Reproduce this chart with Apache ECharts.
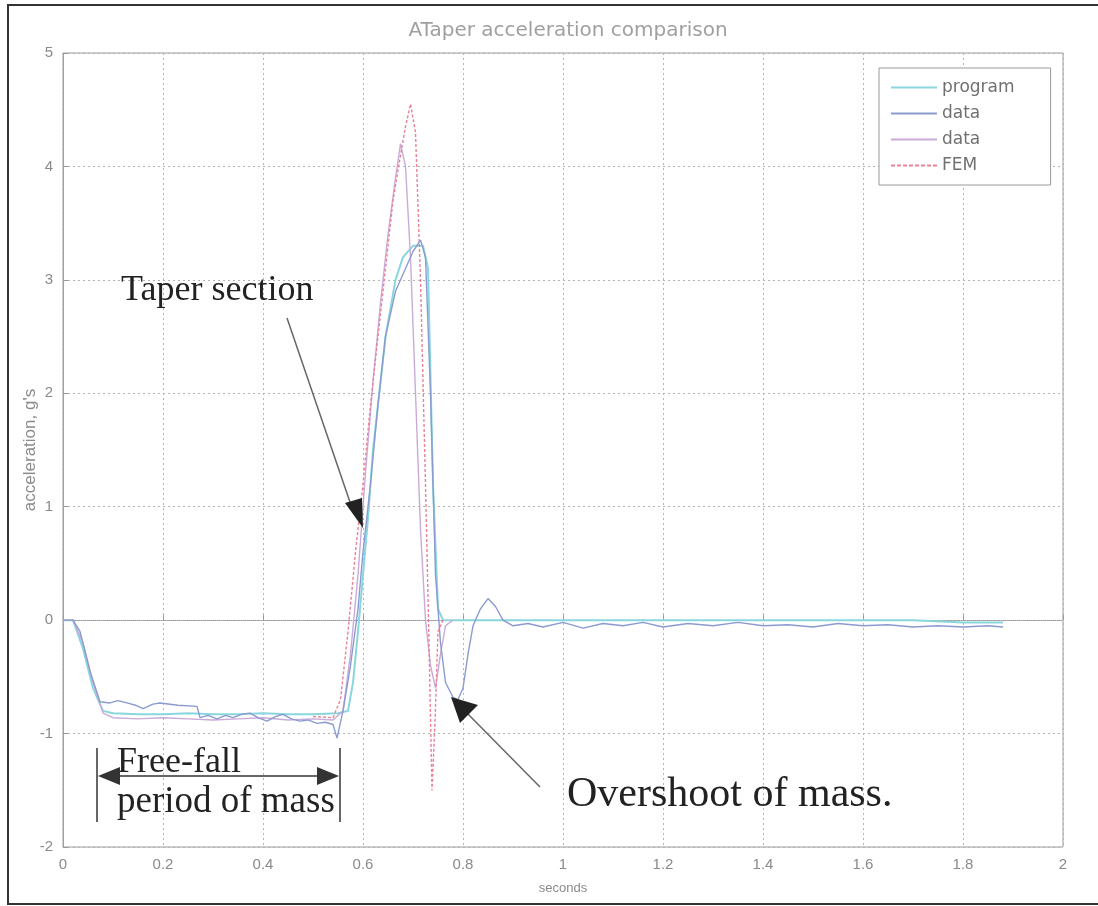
<!DOCTYPE html>
<html>
<head>
<meta charset="utf-8">
<script src="https://cdn.jsdelivr.net/npm/echarts@6/dist/echarts.min.js"></script>
<style>
html,body{margin:0;padding:0;background:#fff;}
#chart{width:1098px;height:906px;}
</style>
</head>
<body>
<div id="chart"></div>
<script>
// ---- data ----
const xTicks = [0, 0.2, 0.4, 0.6, 0.8, 1, 1.2, 1.4, 1.6, 1.8, 2];
const yTicks = [-2, -1, 0, 1, 2, 3, 4, 5];
const seriesNames = ['program', 'data', 'data', 'FEM'];

const programT = [0, 0.02, 0.04, 0.06, 0.08, 0.10, 0.15, 0.2, 0.25, 0.3, 0.35, 0.4, 0.45, 0.5, 0.55, 0.57, 0.58, 0.59, 0.60, 0.61, 0.62, 0.63, 0.645, 0.665, 0.68, 0.70, 0.72, 0.73, 0.74, 0.75, 0.76, 0.8, 0.9, 1.0, 1.1, 1.2, 1.3, 1.4, 1.5, 1.6, 1.7, 1.8, 1.88];
const programY = [0, 0, -0.25, -0.6, -0.8, -0.82, -0.83, -0.83, -0.82, -0.83, -0.83, -0.82, -0.83, -0.83, -0.82, -0.8, -0.55, -0.1, 0.4, 0.9, 1.5, 1.9, 2.5, 3.0, 3.2, 3.3, 3.3, 3.1, 1.2, 0.1, 0, 0, 0, 0, 0, 0, 0, 0, 0, 0, 0, -0.02, -0.02];

const data1T = [0, 0.02, 0.034, 0.054, 0.074, 0.094, 0.11, 0.128, 0.145, 0.16, 0.18, 0.194, 0.23, 0.268, 0.274, 0.29, 0.308, 0.325, 0.34, 0.357, 0.374, 0.39, 0.408, 0.425, 0.44, 0.457, 0.474, 0.49, 0.508, 0.525, 0.54, 0.548, 0.56, 0.575, 0.59, 0.60, 0.615, 0.63, 0.645, 0.665, 0.685, 0.70, 0.715, 0.725, 0.735, 0.745, 0.755, 0.765, 0.78, 0.79, 0.80, 0.81, 0.82, 0.835, 0.85, 0.865, 0.88, 0.9, 0.93, 0.96, 1.0, 1.04, 1.08, 1.12, 1.16, 1.2, 1.25, 1.3, 1.35, 1.4, 1.45, 1.5, 1.55, 1.6, 1.65, 1.7, 1.75, 1.8, 1.85, 1.88];
const data1Y = [0, 0, -0.1, -0.45, -0.72, -0.73, -0.71, -0.73, -0.75, -0.78, -0.74, -0.73, -0.75, -0.76, -0.86, -0.84, -0.87, -0.84, -0.86, -0.83, -0.82, -0.86, -0.89, -0.85, -0.83, -0.87, -0.89, -0.88, -0.91, -0.9, -0.92, -1.04, -0.8, -0.4, 0.1, 0.6, 1.2, 1.9, 2.5, 2.9, 3.1, 3.25, 3.35, 3.2, 2.0, 0.4, -0.2, -0.55, -0.68, -0.7, -0.6, -0.3, -0.05, 0.1, 0.19, 0.12, 0.0, -0.05, -0.03, -0.06, -0.02, -0.07, -0.03, -0.05, -0.02, -0.06, -0.03, -0.05, -0.02, -0.05, -0.04, -0.06, -0.03, -0.05, -0.04, -0.06, -0.05, -0.06, -0.05, -0.06];

const data2T = [0, 0.02, 0.04, 0.06, 0.08, 0.1, 0.15, 0.2, 0.25, 0.3, 0.35, 0.4, 0.45, 0.5, 0.54, 0.56, 0.575, 0.59, 0.605, 0.62, 0.635, 0.65, 0.665, 0.675, 0.685, 0.695, 0.705, 0.715, 0.725, 0.735, 0.745, 0.755, 0.765, 0.78];
const data2Y = [0, 0, -0.2, -0.55, -0.82, -0.86, -0.87, -0.86, -0.87, -0.88, -0.87, -0.86, -0.88, -0.87, -0.88, -0.8, -0.3, 0.4, 1.3, 2.1, 2.8, 3.4, 3.9, 4.2, 4.0, 3.2, 2.0, 0.8, 0.0, -0.4, -0.6, -0.3, -0.05, 0];

const femT = [0.5, 0.54, 0.555, 0.57, 0.585, 0.60, 0.615, 0.63, 0.645, 0.66, 0.675, 0.685, 0.695, 0.705, 0.715, 0.725, 0.732, 0.738, 0.744, 0.75, 0.76];
const femY = [-0.85, -0.86, -0.7, -0.1, 0.6, 1.2, 1.9, 2.5, 3.1, 3.7, 4.1, 4.35, 4.55, 4.3, 3.0, 1.2, -0.2, -1.5, -0.9, -0.1, 0];

const pairs = (t, y) => t.map((v, i) => [v, y[i]]);
const colors = ['#8ad6de', '#8b9bd0', '#c9abd9', '#ea8196'];

const chart = echarts.init(document.getElementById('chart'));
const gridColor = '#b4b4b4';
const serif = '"Liberation Serif", "Times New Roman", serif';
const dashIcon = 'path://M0,0h4v2h-4z M6,0h4v2h-4z M12,0h4v2h-4z M18,0h4v2h-4z M24,0h4v2h-4z M30,0h4v2h-4z M36,0h4v2h-4z M42,0h4v2h-4z';

chart.setOption({
  backgroundColor: '#fff',
  animation: false,
  title: {
    text: 'ATaper acceleration comparison',
    left: 563, top: 16, textAlign: 'center',
    textStyle: { fontSize: 20, fontWeight: 'normal', color: '#a0a0a0', fontFamily: 'DejaVu Sans' }
  },
  grid: { left: 63, right: 35, top: 53, bottom: 59, show: true, borderColor: '#9a9a9a', borderWidth: 1 },
  legend: {
    orient: 'vertical', left: 879, top: 68,
    padding: [10, 36, 10, 12], itemGap: 7, itemWidth: 46, itemHeight: 2,
    borderColor: '#9a9a9a', borderWidth: 1, backgroundColor: '#fff',
    textStyle: { fontSize: 17, color: '#707070', fontFamily: 'DejaVu Sans', lineHeight: 19 },
    data: [
      { name: 'program', icon: 'rect' },
      { name: 'data', icon: 'rect' },
      { name: 'data ', icon: 'rect' },
      { name: 'FEM', icon: dashIcon }
    ],
    formatter: n => n.trim()
  },
  xAxis: {
    type: 'value', min: 0, max: 2, interval: 0.2,
    name: 'seconds', nameLocation: 'middle', nameGap: 35,
    nameTextStyle: { fontSize: 13, color: '#8a8a8a', fontFamily: 'Liberation Sans' },
    axisLine: { show: true, lineStyle: { color: '#9a9a9a', type: 'dotted' } },
    axisTick: { show: true, inside: true, length: 5, lineStyle: { color: '#9a9a9a' } },
    axisLabel: { fontSize: 15, color: '#8a8a8a', margin: 10, fontFamily: 'Liberation Sans',
      formatter: v => xTicks.includes(+v.toFixed(1)) ? String(+v.toFixed(1)) : '' },
    splitLine: { show: true, lineStyle: { color: gridColor, type: [2, 3] } }
  },
  yAxis: {
    type: 'value', min: -2, max: 5, interval: 1,
    name: "acceleration, g's", nameLocation: 'middle', nameGap: 24, nameRotate: 90,
    nameMoveOverlap: false,
    nameTextStyle: { fontSize: 17, color: '#8a8a8a', fontFamily: 'Liberation Sans' },
    axisLine: { show: true, lineStyle: { color: '#9a9a9a', type: 'dotted' } },
    axisTick: { show: true, inside: true, length: 5, lineStyle: { color: '#9a9a9a' } },
    axisLabel: { fontSize: 15, color: '#8a8a8a', margin: 10, fontFamily: 'Liberation Sans',
      formatter: v => yTicks.includes(v) ? String(v) : '' },
    splitLine: { show: true, lineStyle: { color: gridColor, type: [2, 3] } }
  },
  series: [
    { name: 'program', type: 'line', symbol: 'none', data: pairs(programT, programY), lineStyle: { width: 2, color: colors[0] }, itemStyle: { color: colors[0] }, z: 2 },
    { name: 'data', type: 'line', symbol: 'none', data: pairs(data1T, data1Y), lineStyle: { width: 1.4, color: colors[1] }, itemStyle: { color: colors[1] }, z: 4 },
    { name: 'data ', type: 'line', symbol: 'none', data: pairs(data2T, data2Y), lineStyle: { width: 1.4, color: colors[2] }, itemStyle: { color: colors[2] }, z: 3 },
    { name: 'FEM', type: 'line', symbol: 'none', data: pairs(femT, femY), lineStyle: { width: 1.4, color: colors[3], type: [3, 2] }, itemStyle: { color: colors[3] }, z: 5 }
  ],
  graphic: [
    { type: 'rect', shape: { x: 8, y: 5, width: 1100, height: 899 }, style: { fill: 'none', stroke: '#333', lineWidth: 2 }, silent: true, z: 0 },
    // Taper section annotation
    { type: 'text', x: 121, y: 273, style: { text: 'Taper section', font: '36px ' + serif, fill: '#222' }, z: 10 },
    { type: 'line', shape: { x1: 287, y1: 318, x2: 352, y2: 508 }, style: { stroke: '#666', lineWidth: 1.5 }, z: 10 },
    { type: 'polygon', shape: { points: [[363, 528], [345, 503], [362, 498]] }, style: { fill: '#222' }, z: 10 },
    // Overshoot annotation
    { type: 'text', x: 567, y: 774, style: { text: 'Overshoot of mass.', font: '42px ' + serif, fill: '#222' }, z: 10 },
    { type: 'line', shape: { x1: 540, y1: 787, x2: 464, y2: 710 }, style: { stroke: '#666', lineWidth: 1.5 }, z: 10 },
    { type: 'polygon', shape: { points: [[451, 697], [478, 705], [460, 723]] }, style: { fill: '#222' }, z: 10 },
    // Free-fall annotation
    { type: 'text', x: 117, y: 745, style: { text: 'Free-fall', font: '36px ' + serif, fill: '#222' }, z: 10 },
    { type: 'text', x: 117, y: 784, style: { text: 'period of mass', font: '37px ' + serif, fill: '#222' }, z: 10 },
    { type: 'line', shape: { x1: 97, y1: 748, x2: 97, y2: 822 }, style: { stroke: '#333', lineWidth: 1.5 }, z: 10 },
    { type: 'line', shape: { x1: 340, y1: 748, x2: 340, y2: 822 }, style: { stroke: '#333', lineWidth: 1.5 }, z: 10 },
    { type: 'line', shape: { x1: 110, y1: 776, x2: 328, y2: 776 }, style: { stroke: '#333', lineWidth: 1.5 }, z: 10 },
    { type: 'polygon', shape: { points: [[98, 776], [120, 767], [120, 785]] }, style: { fill: '#333' }, z: 10 },
    { type: 'polygon', shape: { points: [[339, 776], [317, 767], [317, 785]] }, style: { fill: '#333' }, z: 10 }
  ]
});
</script>
</body>
</html>
